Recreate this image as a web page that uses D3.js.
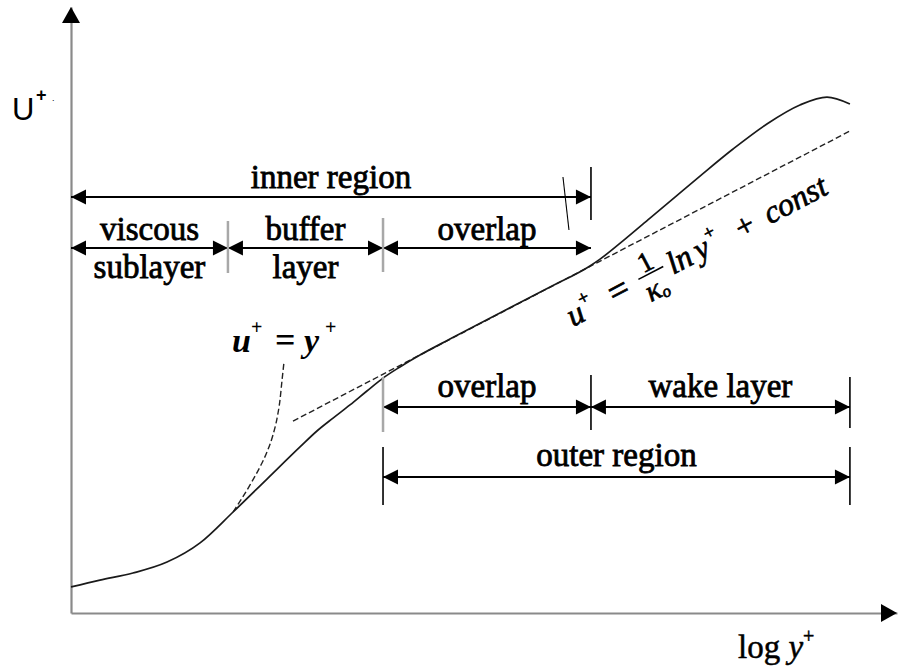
<!DOCTYPE html>
<html><head><meta charset="utf-8">
<script src="https://cdn.jsdelivr.net/npm/d3@7"></script>
<style>
html,body{margin:0;padding:0;background:#fff;}
svg{display:block;}
</style></head>
<body>
<svg id="chart" width="898" height="671"></svg>
<script>
// Mean velocity profile of a turbulent boundary layer (schematic):
// x = log y+ (schematic units), y = U+
const profileLogY = [0, 0.140, 0.300, 0.465, 0.625, 0.785, 0.949, 1.109, 1.191, 1.269, 1.351, 1.433, 1.511,
                     1.593, 1.690, 1.835, 2.077, 2.320, 2.513, 2.562, 2.683, 2.804, 2.925, 3.046, 3.206,
                     3.370, 3.530, 3.661, 3.772];
const profileU    = [1.29, 1.63, 1.98, 2.52, 3.47, 5.00, 6.63, 8.22, 9.01, 9.65, 10.30, 10.99, 11.63,
                     12.18, 12.77, 13.56, 14.85, 16.14, 17.18, 17.52, 18.51, 19.55, 20.59, 21.63, 22.97,
                     24.21, 25.15, 25.54, 25.20];

// Viscous sublayer law u+ = y+
const viscousLogY = [0.785, 0.867, 0.915, 0.949, 0.978, 0.998, 1.012, 1.022, 1.031];
const viscousU    = [5.00, 6.34, 7.23, 7.97, 8.81, 9.65, 10.54, 11.53, 12.38];

// Log law u+ = (1/k) ln y+ + const
const logLawLogY = [1.075, 3.772];
const logLawU    = [9.50, 23.86];

// Region boundaries in log y+
const zoneEdges = [0, 0.760, 1.511, 2.518, 3.772];
const innerLabels = [["viscous", "sublayer"], ["buffer", "layer"], ["overlap"]];
const outerLabels = [["overlap"], ["wake layer"]];

const xDomain = [0, 4];
const yDomain = [0, 30];

const svg = d3.select("#chart");
const x = d3.scaleLinear().domain(xDomain).range([71, 897]);
const y = d3.scaleLinear().domain(yDomain).range([613, 7]);

const SERIF = "'Liberation Serif','Times New Roman',serif";
const FS = 33;

// ---- axes ----
const xAxis = svg.append("g").attr("transform", `translate(0,${y(0)})`)
  .call(d3.axisBottom(x).ticks(0).tickSizeOuter(0));
const yAxis = svg.append("g").attr("transform", `translate(${x(0)},0)`)
  .call(d3.axisLeft(y).ticks(0).tickSizeOuter(0));
[xAxis, yAxis].forEach(g => g.select(".domain").attr("stroke", "#8a8a8a").attr("stroke-width", 2.2));

const xEnd = x.range()[1], yTop = y.range()[1];
svg.append("path").attr("d", `M${xEnd},${y(0)} L${xEnd - 16},${y(0) - 9} L${xEnd - 16},${y(0) + 9} Z`).attr("fill", "#000");
svg.append("path").attr("d", `M${x(0)},${yTop} L${x(0) - 9},${yTop + 16} L${x(0) + 9},${yTop + 16} Z`).attr("fill", "#000");

// axis titles
const uLab = svg.append("g");
uLab.append("text").attr("x", 12).attr("y", 120).attr("font-family", "'Liberation Sans',Arial,sans-serif")
  .attr("font-size", 31).text("U");
uLab.append("text").attr("x", 36).attr("y", 101).attr("font-family", "'Liberation Sans',Arial,sans-serif")
  .attr("font-size", 18).attr("font-weight", "bold").text("+");
uLab.append("text").attr("x", 52).attr("y", 101).attr("font-family", "'Liberation Sans',Arial,sans-serif")
  .attr("font-size", 9).text(".");

const xt = svg.append("text").attr("x", 738).attr("y", 658).attr("font-family", SERIF).attr("font-size", FS)
  .attr("stroke", "#000").attr("stroke-width", 0.5);
xt.append("tspan").text("log ");
xt.append("tspan").attr("font-style", "italic").text("y");
xt.append("tspan").attr("font-size", 20).attr("dy", -15).text("+");

// ---- curves ----
const line = d3.line().x(d => x(d[0])).y(d => y(d[1])).curve(d3.curveMonotoneX);

svg.append("path").datum(viscousLogY.map((v, i) => [v, viscousU[i]]))
  .attr("d", line).attr("fill", "none").attr("stroke", "#222").attr("stroke-width", 1.4)
  .attr("stroke-dasharray", "6,3");
svg.append("path").datum(logLawLogY.map((v, i) => [v, logLawU[i]]))
  .attr("d", line).attr("fill", "none").attr("stroke", "#222").attr("stroke-width", 1.4)
  .attr("stroke-dasharray", "6,3");
svg.append("path").datum(profileLogY.map((v, i) => [v, profileU[i]]))
  .attr("d", line).attr("fill", "none").attr("stroke", "#1a1a1a").attr("stroke-width", 1.7);

// ---- dimension arrows ----
function head(g, tipX, yy, dir) {
  // dir = -1 points left, +1 points right
  g.append("path")
    .attr("d", `M${tipX},${yy} L${tipX - dir * 15},${yy - 7.5} L${tipX - dir * 15},${yy + 7.5} Z`)
    .attr("fill", "#000");
}
function span(a, b, yy) {
  const g = svg.append("g");
  g.append("line").attr("x1", x(a)).attr("x2", x(b)).attr("y1", yy).attr("y2", yy)
    .attr("stroke", "#000").attr("stroke-width", 2);
  head(g, x(a), yy, -1);
  head(g, x(b), yy, 1);
}
function tick(v, y1, y2, gray) {
  svg.append("line").attr("x1", x(v)).attr("x2", x(v)).attr("y1", y1).attr("y2", y2)
    .attr("stroke", gray ? "#a8a8a8" : "#000").attr("stroke-width", gray ? 2.5 : 1.6);
}
function label(lines, cx, base, lh) {
  lines.forEach((t, i) => svg.append("text").attr("x", cx).attr("y", base + i * lh)
    .attr("text-anchor", "middle").attr("font-family", SERIF).attr("font-size", FS)
    .attr("stroke", "#000").attr("stroke-width", 0.8).text(t));
}

// inner region
const rowA = 197, rowB = 248, rowC = 407, rowD = 477;
span(zoneEdges[0], zoneEdges[3], rowA);
tick(zoneEdges[3], rowA - 30, rowA + 23, false);
svg.append("line").attr("x1", x(zoneEdges[3]) - 28).attr("y1", rowA - 20)
  .attr("x2", x(zoneEdges[3]) - 22).attr("y2", rowA + 33).attr("stroke", "#000").attr("stroke-width", 1.1);
label(["inner region"], (x(zoneEdges[0]) + x(zoneEdges[3])) / 2, rowA - 9, 0);

// inner layers
innerLabels.forEach((lab, i) => {
  span(zoneEdges[i], zoneEdges[i + 1], rowB);
  label(lab, (x(zoneEdges[i]) + x(zoneEdges[i + 1])) / 2, rowB - 8, 38);
});
tick(zoneEdges[1], rowB - 27, rowB + 25, true);
tick(zoneEdges[2], rowB - 30, rowB + 24, true);

// outer layers
outerLabels.forEach((lab, i) => {
  span(zoneEdges[i + 2], zoneEdges[i + 3], rowC);
  label(lab, (x(zoneEdges[i + 2]) + x(zoneEdges[i + 3])) / 2, rowC - 10, 0);
});
tick(zoneEdges[2], rowC - 30, rowC + 25, true);
tick(zoneEdges[3], rowC - 32, rowC + 23, false);
tick(zoneEdges[4], rowC - 30, rowC + 21, false);

// outer region
span(zoneEdges[2], zoneEdges[4], rowD);
tick(zoneEdges[2], rowD - 30, rowD + 28, false);
tick(zoneEdges[4], rowD - 30, rowD + 28, false);
label(["outer region"], (x(zoneEdges[2]) + x(zoneEdges[4])) / 2, rowD - 11, 0);

// ---- law labels ----
const vl = svg.append("g").attr("font-family", SERIF).attr("font-weight", "bold");
vl.append("text").attr("x", 232).attr("y", 352).attr("font-size", 34).attr("font-style", "italic").text("u");
vl.append("text").attr("x", 251).attr("y", 334).attr("font-size", 20).text("+");
vl.append("text").attr("x", 275).attr("y", 352).attr("font-size", 36).text("=");
vl.append("text").attr("x", 304).attr("y", 352).attr("font-size", 34).attr("font-style", "italic").text("y");
vl.append("text").attr("x", 325).attr("y", 334).attr("font-size", 20).text("+");

const angle = Math.atan2(y(logLawU[1]) - y(logLawU[0]), x(logLawLogY[1]) - x(logLawLogY[0])) * 180 / Math.PI;
const eq = svg.append("g").attr("transform", `translate(573,327) rotate(${angle})`)
  .attr("font-family", SERIF).attr("font-style", "italic").attr("font-size", 32)
  .attr("stroke", "#000").attr("stroke-width", 0.7);
eq.append("text").attr("x", 0).attr("y", 0).text("u");
eq.append("text").attr("x", 17).attr("y", -15).attr("font-size", 19).attr("font-style", "normal").text("+");
eq.append("text").attr("x", 47).attr("y", 0).attr("font-style", "normal").attr("font-size", 36).text("=");
eq.append("line").attr("x1", 80).attr("x2", 108).attr("y1", -12).attr("y2", -12).attr("stroke", "#000").attr("stroke-width", 1.6);
eq.append("text").attr("x", 94).attr("y", -15).attr("text-anchor", "middle").attr("font-style", "normal").attr("font-size", 28).text("1");
const kap = eq.append("text").attr("x", 92).attr("y", 14).attr("text-anchor", "middle").attr("font-size", 30);
kap.append("tspan").text("κ");
kap.append("tspan").attr("font-size", 17).attr("dy", 3).text("o");
eq.append("text").attr("x", 113).attr("y", 0).text("ln");
eq.append("text").attr("x", 143).attr("y", 0).text("y");
eq.append("text").attr("x", 159).attr("y", -15).attr("font-size", 19).attr("font-style", "normal").text("+");
eq.append("text").attr("x", 190).attr("y", 0).attr("font-style", "normal").text("+");
eq.append("text").attr("x", 222).attr("y", 0).text("const");
</script>
</body></html>
